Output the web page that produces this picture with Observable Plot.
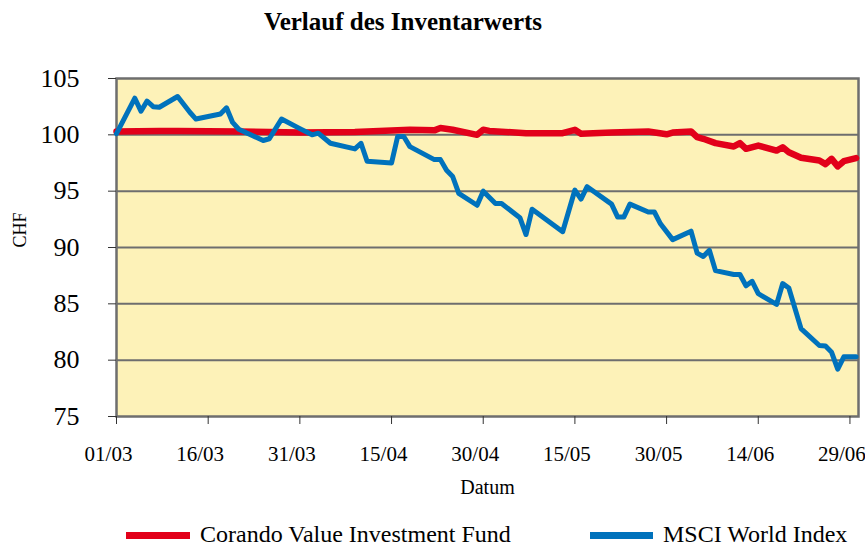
<!DOCTYPE html>
<html><head><meta charset="utf-8">
<script src="https://cdn.jsdelivr.net/npm/d3@7"></script>
<script src="https://cdn.jsdelivr.net/npm/@observablehq/plot@0.6"></script>
<style>
body{margin:0;background:#fff;font-family:"Liberation Serif","Times New Roman",serif;color:#000}
#wrap{position:relative;width:865px;height:548px;overflow:hidden}
#title{position:absolute;left:0;width:806px;top:9px;text-align:center;font-weight:bold;font-size:25px;line-height:25px}
#chart{position:absolute;left:0;top:40px}
#chart svg, #chart svg g, #chart svg text{font-family:"Liberation Serif","Times New Roman",serif !important}
.sw{position:absolute;height:7px}
.lt{position:absolute;font-size:24px;line-height:24px;top:522px;white-space:nowrap}
</style></head>
<body>
<div id="wrap">
<div id="title">Verlauf des Inventarwerts</div>
<div id="chart"></div>
<div class="sw" id="sw0" style="left:126px;top:532px;width:64px"></div>
<div class="lt" id="lt0" style="left:200px"></div>
<div class="sw" id="sw1" style="left:590px;top:532px;width:63px"></div>
<div class="lt" id="lt1" style="left:663px"></div>
</div>
<script>
const seriesNames = ["Corando Value Investment Fund", "MSCI World Index"];
const seriesColors = ["#E2001A", "#0072BC"];

const fundDates = ["2002-03-01","2002-03-08","2002-03-11","2002-03-21","2002-03-31","2002-04-09","2002-04-18","2002-04-22","2002-04-23","2002-04-25","2002-04-29","2002-04-30","2002-05-01","2002-05-07","2002-05-13","2002-05-15","2002-05-16","2002-05-21","2002-05-27","2002-05-30","2002-05-31","2002-06-03","2002-06-04","2002-06-05","2002-06-07","2002-06-10","2002-06-11","2002-06-12","2002-06-14","2002-06-17","2002-06-18","2002-06-19","2002-06-21","2002-06-24","2002-06-25","2002-06-26","2002-06-27","2002-06-28","2002-06-30"];
const fundValues = [100.3,100.35,100.35,100.3,100.2,100.25,100.45,100.4,100.6,100.45,100.0,100.45,100.35,100.15,100.15,100.45,100.1,100.2,100.3,100.05,100.2,100.3,99.8,99.65,99.26,98.97,99.26,98.76,99.05,98.6,98.9,98.46,97.96,97.72,97.4,97.87,97.2,97.66,97.93];

const msciDates = ["2002-03-01","2002-03-04","2002-03-05","2002-03-06","2002-03-07","2002-03-08","2002-03-11","2002-03-13","2002-03-14","2002-03-18","2002-03-19","2002-03-20","2002-03-21","2002-03-25","2002-03-26","2002-03-28","2002-03-31","2002-04-02","2002-04-03","2002-04-05","2002-04-09","2002-04-10","2002-04-11","2002-04-15","2002-04-16","2002-04-17","2002-04-18","2002-04-22","2002-04-23","2002-04-24","2002-04-25","2002-04-26","2002-04-29","2002-04-30","2002-05-02","2002-05-03","2002-05-06","2002-05-07","2002-05-08","2002-05-13","2002-05-15","2002-05-16","2002-05-17","2002-05-21","2002-05-22","2002-05-23","2002-05-24","2002-05-27","2002-05-28","2002-05-29","2002-05-31","2002-06-03","2002-06-04","2002-06-05","2002-06-06","2002-06-07","2002-06-10","2002-06-11","2002-06-12","2002-06-13","2002-06-14","2002-06-17","2002-06-18","2002-06-19","2002-06-21","2002-06-24","2002-06-25","2002-06-26","2002-06-27","2002-06-28","2002-06-30"];
const msciValues = [100.1,103.25,102.1,103.0,102.5,102.45,103.4,102.0,101.4,101.85,102.4,101.1,100.5,99.5,99.65,101.4,100.55,100.0,100.15,99.25,98.75,99.25,97.65,97.5,99.85,99.85,98.95,97.8,97.8,96.85,96.3,94.8,93.75,95.0,93.9,93.9,92.65,91.15,93.4,91.4,95.1,94.3,95.4,93.85,92.7,92.7,93.85,93.15,93.15,92.1,90.7,91.45,89.5,89.2,89.75,87.95,87.6,87.6,86.6,87.0,85.9,84.95,86.8,86.4,82.8,81.3,81.25,80.7,79.2,80.3,80.3];

const xTickLabels = ["01/03","16/03","31/03","15/04","30/04","15/05","30/05","14/06","29/06"];
const yTicks = [75,80,85,90,95,100,105];
const gridTicks = [80,85,90,95,100];

const serif = '"Liberation Serif", "Times New Roman", serif';
const parse = d3.utcParse("%Y-%m-%d");
const fund = fundDates.map((d,i)=>({date:parse(d), value:fundValues[i]}));
const msci = msciDates.map((d,i)=>({date:parse(d), value:msciValues[i]}));
const xTicks = xTickLabels.map(s => { const [dd,mm] = s.split("/"); return new Date(Date.UTC(2002, +mm-1, +dd)); });
const xStart = new Date(Date.UTC(2002,2,1));
const xEnd = new Date(Date.UTC(2002,2,1) + 121.4*86400000);
const fmt = d3.utcFormat("%d/%m");

const chart = Plot.plot({
  width: 865, height: 460,
  marginTop: 38, marginBottom: 84, marginLeft: 116, marginRight: 7,
  style: {fontFamily: serif, background: "transparent", color: "#000", overflow: "visible"},
  x: {type: "utc", domain: [xStart, xEnd]},
  y: {domain: [75, 105]},
  marks: [
    Plot.frame({fill: "#FDF2B8", stroke: "none"}),
    Plot.gridY(gridTicks, {stroke: "#6e6e6e", strokeOpacity: 1, strokeWidth: 2}),
    Plot.frame({stroke: "#6e6e6e", strokeWidth: 2.5}),
    Plot.axisY(yTicks, {tickSize: 8, tickPadding: 29, fontSize: 26, fontFamily: serif, stroke: "#333", fill: "#000", label: null}),
    Plot.axisX(xTicks, {tickSize: 8, stroke: "#333", fill: "none", label: null}),
    Plot.axisX(xTicks, {tickSize: 8, tickPadding: 22, fontSize: 21, fontFamily: serif, stroke: "none", fill: "#000", dx: -8, tickFormat: fmt, label: null}),
    Plot.line(fund, {x: "date", y: "value", stroke: seriesColors[0], strokeWidth: 6.5}),
    Plot.line(msci, {x: "date", y: "value", stroke: seriesColors[1], strokeWidth: 5}),
    Plot.text(["CHF"], {frameAnchor: "left", dx: -96, rotate: -90, fontSize: 18, fontFamily: serif, fill: "#000"}),
    Plot.text(["Datum"], {frameAnchor: "bottom", dy: 77, fontSize: 20, fontFamily: serif, fill: "#000"})
  ]
});
document.getElementById("chart").appendChild(chart);
document.getElementById("sw0").style.background = seriesColors[0];
document.getElementById("sw1").style.background = seriesColors[1];
document.getElementById("lt0").textContent = seriesNames[0];
document.getElementById("lt1").textContent = seriesNames[1];
</script>
</body></html>
